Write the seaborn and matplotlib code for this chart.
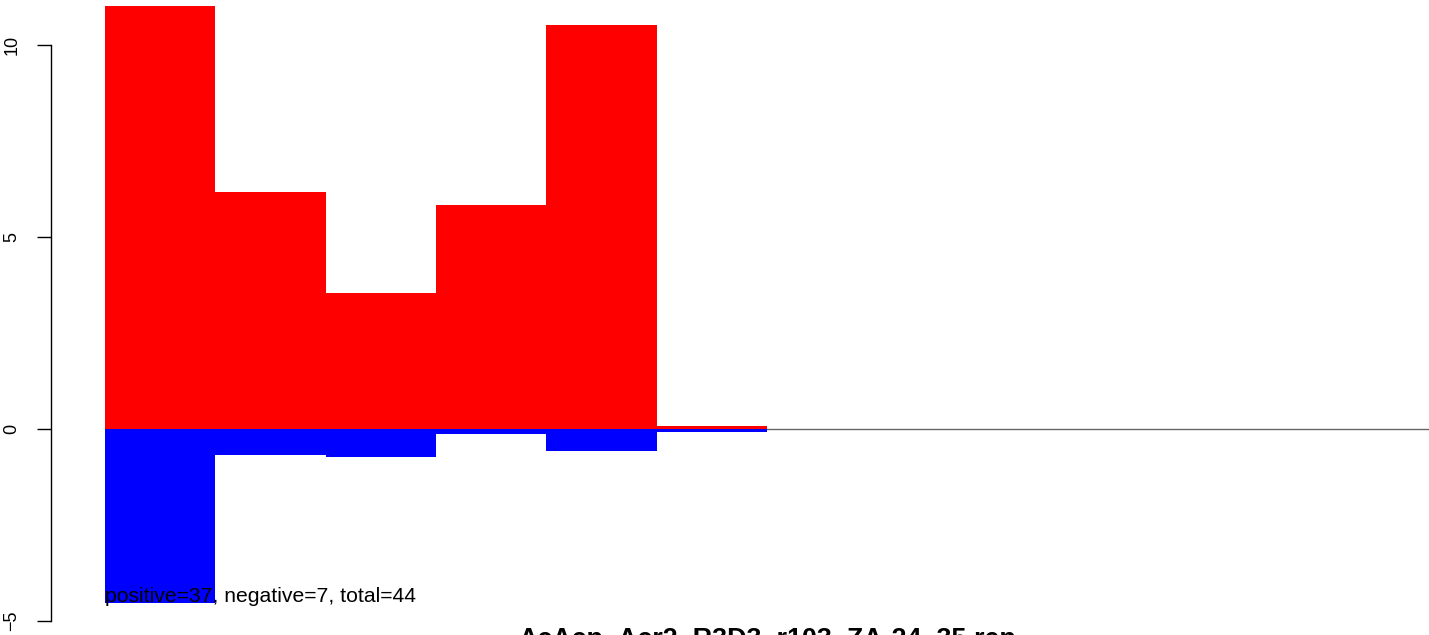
import matplotlib
matplotlib.use("Agg")
import matplotlib.pyplot as plt
import seaborn as sns
import pandas as pd

# valeurs
bins = [str(i) for i in range(1, 13)]
positive = [11.02, 6.17, 3.54, 5.83, 10.52, 0.08, 0, 0, 0, 0, 0, 0]
negative = [-4.53, -0.68, -0.73, -0.13, -0.57, -0.08, 0, 0, 0, 0, 0, 0]
yticks = [-5, 0, 5, 10]
note = "positive=37, negative=7, total=44"
title = "AcAcp_Acr2_R3D3_r103_ZA-24_35.rep"

df = pd.DataFrame({"bin": bins, "pos": positive, "neg": negative})

sns.set_style("white")
plt.rcParams["font.family"] = ["Liberation Sans", "DejaVu Sans"]
plt.rcParams["text.color"] = "black"

fig = plt.figure(figsize=(14.29, 6.35), dpi=100)
ax = fig.add_axes([105 / 1429, 0, 1324 / 1429, 1])

ax.axhline(0, color="#666666", lw=1, zorder=0)
sns.barplot(data=df, x="bin", y="pos", color="red", width=1, saturation=1,
            linewidth=0, ax=ax, zorder=2)
sns.barplot(data=df, x="bin", y="neg", color="blue", width=1, saturation=1,
            linewidth=0, ax=ax, zorder=2)

ax.set_xlim(-0.5, 11.5)
ax.set_ylim(-5.36, 11.17)
ax.set_xlabel("")
ax.set_ylabel("")
ax.set_xticks([])
ax.set_yticks(yticks)
ax.set_yticklabels([])
ax.tick_params(axis="y", length=9.8, width=1, left=True, colors="black")

# etiquettes de l'axe y, tournees comme dans R
for t in yticks:
    ax.text(-93 / 1324, t, str(t).replace("-", "\u2212"),
            transform=ax.get_yaxis_transform(), rotation=90,
            ha="center", va="center", fontsize=13)

for s in ["top", "right", "bottom"]:
    ax.spines[s].set_visible(False)
ax.spines["left"].set_position(("outward", 39))
ax.spines["left"].set_bounds(-5, 10)
ax.spines["left"].set_linewidth(1)
ax.spines["left"].set_color("black")

ax.text(-0.5, -4.35, note, fontsize=15.2, va="center", ha="left", zorder=3)
fig.text(767 / 1429, 1 - 627 / 635, title, fontsize=19.4, fontweight="bold",
         ha="center", va="top")

fig.savefig("out.png", dpi=100)
